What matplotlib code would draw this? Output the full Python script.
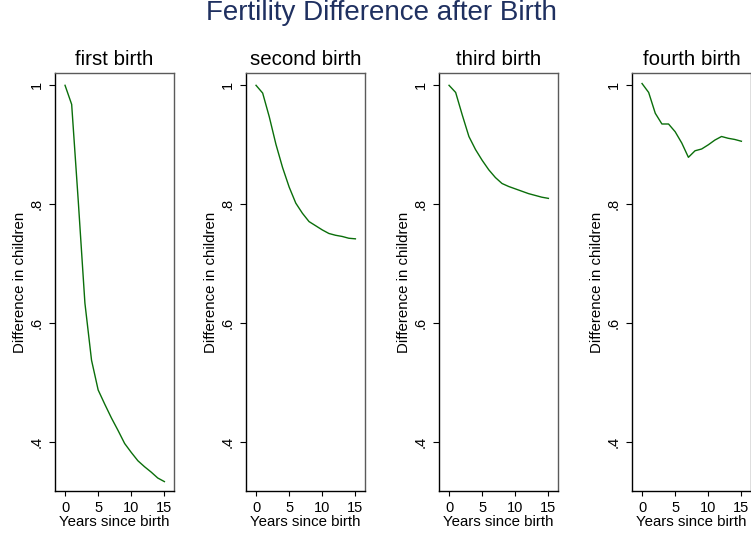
import matplotlib
matplotlib.use("Agg")
import matplotlib.pyplot as plt

plt.rcParams['font.family'] = ['Liberation Sans', 'DejaVu Sans']

years = list(range(16))
panel_titles = ["first birth", "second birth", "third birth", "fourth birth"]
first_birth = [1.000, 0.968, 0.805, 0.634, 0.538, 0.488, 0.464, 0.441, 0.420, 0.398,
               0.383, 0.369, 0.359, 0.350, 0.340, 0.334]
second_birth = [1.000, 0.987, 0.947, 0.901, 0.862, 0.829, 0.802, 0.785, 0.771, 0.764,
                0.757, 0.751, 0.748, 0.746, 0.743, 0.742]
third_birth = [1.000, 0.988, 0.950, 0.914, 0.892, 0.874, 0.858, 0.845, 0.835, 0.830,
               0.826, 0.822, 0.818, 0.815, 0.812, 0.810]
fourth_birth = [1.003, 0.988, 0.953, 0.935, 0.935, 0.922, 0.903, 0.879, 0.890, 0.893,
                0.900, 0.908, 0.914, 0.911, 0.909, 0.906]
series = [first_birth, second_birth, third_birth, fourth_birth]
y_ticks = [0.4, 0.6, 0.8, 1.0]
y_ticklabels = [".4", ".6", ".8", "1"]
x_ticks = [0, 5, 10, 15]
x_ticklabels = ["0", "5", "10", "15"]
main_title = "Fertility Difference after Birth"
x_label = "Years since birth"
y_label = "Difference in children"

W, H = 751, 538
fig = plt.figure(figsize=(W / 100, H / 100), dpi=100)
fig.patch.set_facecolor("white")

lefts = [55.3, 246.3, 439.3, 632.3]
ax_w = 118.5
ax_top = 73.3
ax_bot = 490.7

line_color = "#0a6e0a"

for i, (left, vals, t) in enumerate(zip(lefts, series, panel_titles)):
    ax = fig.add_axes([left / W, 1 - ax_bot / H, ax_w / W, (ax_bot - ax_top) / H])
    ax.plot(years, vals, color=line_color, lw=1.0)
    ax.set_xlim(-1.47, 16.42)
    ax.set_ylim(0.3187, 1.0202)
    ax.set_yticks(y_ticks)
    ax.set_yticklabels(y_ticklabels, rotation=90, va="center")
    ax.set_xticks(x_ticks)
    ax.set_xticklabels(x_ticklabels)
    ax.tick_params(axis="y", length=4.3, width=0.8, pad=3.8, labelsize=10.5, colors="black")
    ax.tick_params(axis="x", length=3.6, width=0.8, pad=3.6, labelsize=10.5, colors="black")
    for s in ["left", "bottom"]:
        ax.spines[s].set_color("black")
        ax.spines[s].set_linewidth(1.0)
    for s in ["top", "right"]:
        ax.spines[s].set_color("#5a5a5a")
        ax.spines[s].set_linewidth(1.0)
    ax.set_xlabel(x_label, fontsize=10.8, va="top")
    ax.xaxis.set_label_coords(0.5, -(514.5 - ax_bot) / (ax_bot - ax_top))
    ax.set_ylabel(y_label, fontsize=10.8, va="center")
    ax.yaxis.set_label_coords(-35.0 / ax_w, 0.5)
    fig.text((left + ax_w / 2) / W, 1 - 65 / H, t, ha="center", va="baseline",
             fontsize=14.8, color="black")

fig.text(381 / W, 1 - 20 / H, main_title, ha="center", va="baseline",
         fontsize=20, color="#1f3060")

fig.savefig("out.png", dpi=100, facecolor="white")
